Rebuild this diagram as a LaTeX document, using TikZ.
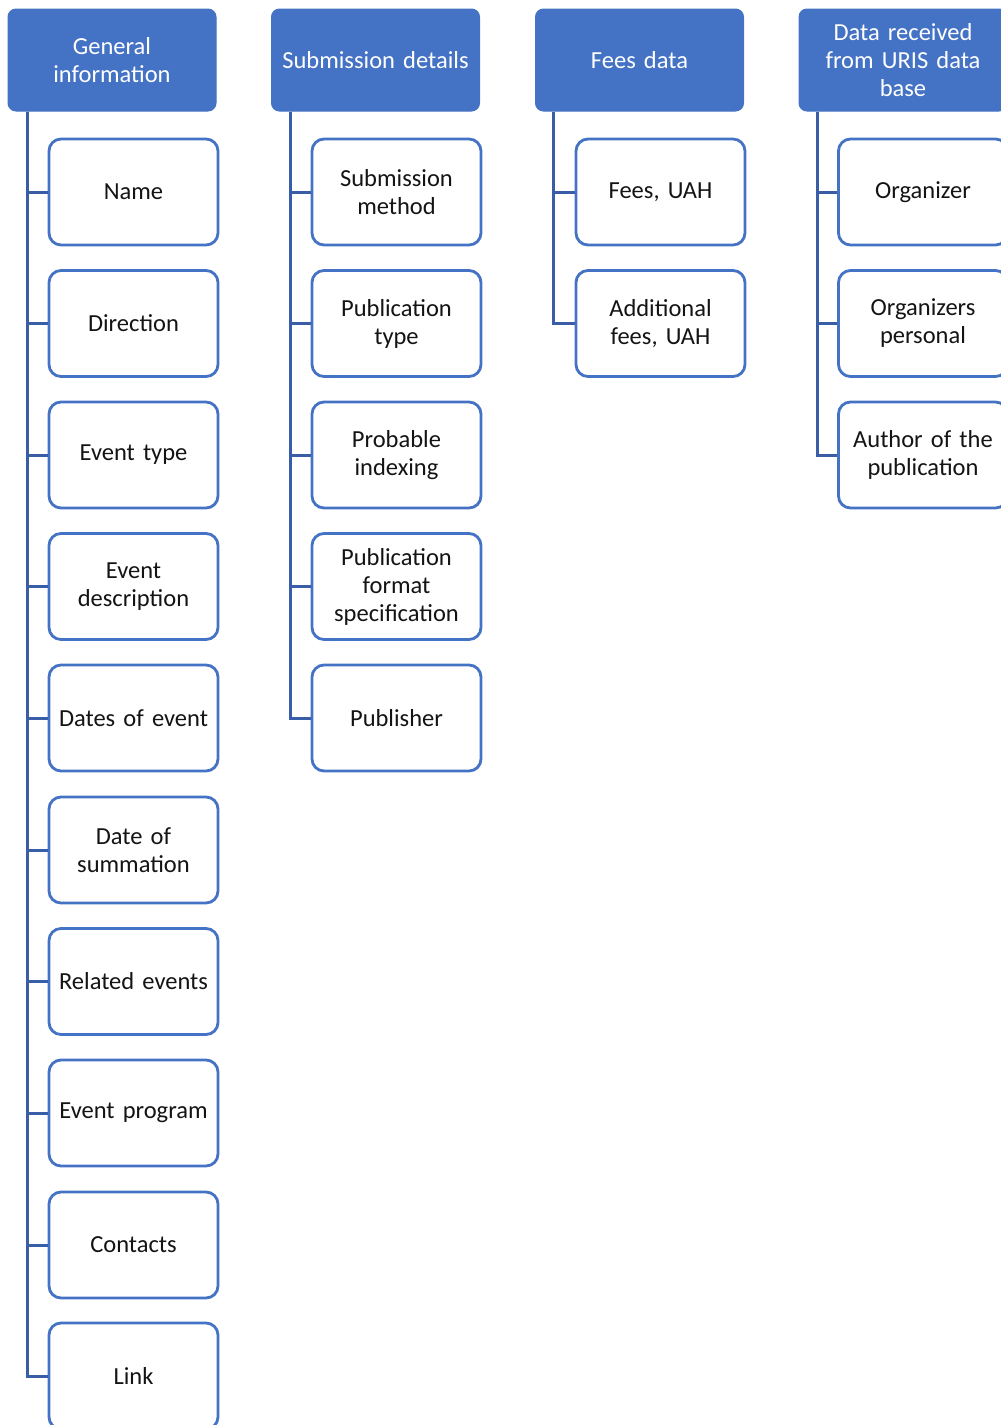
\documentclass[tikz,border=0pt]{standalone}
\usepackage{fontspec}
\setmainfont{Carlito}
\definecolor{hdrblue}{HTML}{4472C4}
\definecolor{lineblue}{HTML}{3A5DA8}
\begin{document}
\begin{tikzpicture}[x=1pt,y=-1pt,
  hdr/.style={draw=hdrblue,fill=hdrblue,line width=1pt,rounded corners=8pt,minimum width=208pt,minimum height=102pt,text width=204pt,align=center,text=white,font=\fontsize{24.5}{28}\selectfont,inner sep=0pt},
  child/.style={draw=hdrblue,fill=white,line width=2.8pt,rounded corners=12pt,minimum width=169pt,minimum height=106pt,text width=167pt,align=center,text=black!92,font=\fontsize{24.5}{28}\selectfont,inner sep=0pt},
  conn/.style={draw=lineblue,line width=3pt}]
\useasboundingbox (0,0) rectangle (1001,1425);
% headers
\node[hdr] (h1) at (112,60) {General\\information};
\node[hdr] (h2) at (375.5,60) {Submission details};
\node[hdr] (h3) at (639.5,60) {Fees data};
\node[hdr] (h4) at (903,60) {Data received\\from URIS data\\base};
% column 1
\node[child] (a1) at (133.5,192) {Name};
\node[child] (a2) at (133.5,323.5) {Direction};
\node[child] (a3) at (133.5,455) {Event type};
\node[child] (a4) at (133.5,586.5) {Event\\description};
\node[child] (a5) at (133.5,718) {Dates of event};
\node[child] (a6) at (133.5,850) {Date of\\summation};
\node[child] (a7) at (133.5,981.5) {Related events};
\node[child] (a8) at (133.5,1113) {Event program};
\node[child] (a9) at (133.5,1245) {Contacts};
\node[child] (a10) at (133.5,1376) {Link};
% column 2
\node[child] (b1) at (396.5,192) {Submission\\method};
\node[child] (b2) at (396.5,323.5) {Publication\\type};
\node[child] (b3) at (396.5,455) {Probable\\indexing};
\node[child] (b4) at (396.5,586.5) {Publication\\format\\specification};
\node[child] (b5) at (396.5,718) {Publisher};
% column 3
\node[child] (c1) at (660.5,192) {Fees, UAH};
\node[child] (c2) at (660.5,323.5) {Additional\\fees, UAH};
% column 4
\node[child] (d1) at (923,192) {Organizer};
\node[child] (d2) at (923,323.5) {Organizers\\personal};
\node[child] (d3) at (923,455) {Author of the\\publication};
% connectors
\foreach \c in {a1,a2,a3,a4,a5,a6,a7,a8,a9,a10}
  \draw[conn] ([xshift=20pt]h1.south west) |- (\c.west);
\foreach \c in {b1,b2,b3,b4,b5}
  \draw[conn] ([xshift=19pt]h2.south west) |- (\c.west);
\foreach \c in {c1,c2}
  \draw[conn] ([xshift=18pt]h3.south west) |- (\c.west);
\foreach \c in {d1,d2,d3}
  \draw[conn] ([xshift=19pt]h4.south west) |- (\c.west);
\end{tikzpicture}
\end{document}
